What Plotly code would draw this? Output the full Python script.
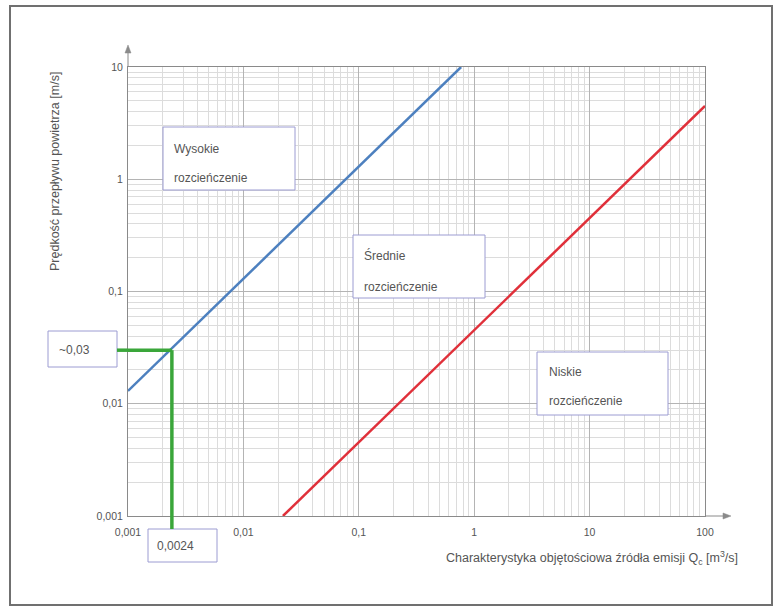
import plotly.graph_objects as go

# ---- data ----
x_tick_vals = [0.001, 0.01, 0.1, 1, 10, 100]
x_tick_text = ["0,001", "0,01", "0,1", "1", "10", "100"]
y_tick_vals = [0.001, 0.01, 0.1, 1, 10]
y_tick_text = ["0,001", "0,01", "0,1", "1", "10"]

high_q = [0.001, 0.77]      # boundary: high / medium dilution
high_v = [0.013, 10]
low_q = [0.022, 100]        # boundary: medium / low dilution
low_v = [0.001, 4.5]

marker_q = 0.0024
marker_v = 0.03
marker_q_label = "0,0024"
marker_v_label = "~0,03"

zone_labels = [("Wysokie", "rozcieńczenie"),
               ("Średnie", "rozcieńczenie"),
               ("Niskie", "rozcieńczenie")]

# ---- layout helpers (pixel -> paper) ----
L, R, T, B = 128, 75, 67, 96
WID, HEI = 780, 612
PW, PH = WID - L - R, HEI - T - B


def px(x):
    return (x - L) / PW


def py(y):
    return (HEI - B - y) / PH


FONT = "Liberation Sans, Arial, sans-serif"
TXT = "#555555"
AXC = "#8a8a8a"

fig = go.Figure()
fig.add_trace(go.Scatter(x=high_q, y=high_v, mode="lines",
                         line=dict(color="#4d80bf", width=2.5), showlegend=False))
fig.add_trace(go.Scatter(x=low_q, y=low_v, mode="lines",
                         line=dict(color="#e0303a", width=2.5), showlegend=False))

axis_common = dict(
    type="log", showgrid=True, gridcolor="#b4b4b4", gridwidth=1,
    showline=True, linecolor=AXC, linewidth=1, mirror=True,
    ticks="", tickfont=dict(family=FONT, size=10.5, color=TXT),
    zeroline=False, tickmode="array",
    minor=dict(showgrid=True, gridcolor="#dcdcdc", gridwidth=1, dtick="D1", tickmode="linear"),
)

fig.update_xaxes(range=[-3, 2], tickvals=x_tick_vals, ticktext=x_tick_text,
                 ticklabelstandoff=6, **axis_common)
fig.update_yaxes(range=[-3, 1], tickvals=y_tick_vals, ticktext=y_tick_text,
                 ticklabelstandoff=2, **axis_common)

shapes = []
# outer frame
shapes.append(dict(type="rect", xref="paper", yref="paper",
                   x0=px(10), x1=px(772), y0=py(605), y1=py(6),
                   line=dict(color="#707070", width=2), fillcolor="rgba(0,0,0,0)", layer="below"))

# zone / value boxes
boxes = [(163, 295, 127, 190), (353, 485, 235, 298), (537, 668, 352, 415),
         (48, 117, 331, 367), (148, 217, 529, 562)]
for (x0, x1, y0, y1) in boxes:
    shapes.append(dict(type="rect", xref="paper", yref="paper",
                       x0=px(x0), x1=px(x1), y0=py(y1), y1=py(y0),
                       line=dict(color="#9c9cd2", width=1), fillcolor="white", layer="above"))

GREEN = "#3aa63a"
GW = 3.5
# green marker lines
shapes.append(dict(type="line", xref="x", yref="y", x0=0.001, x1=marker_q,
                   y0=marker_v, y1=marker_v, line=dict(color=GREEN, width=GW)))
shapes.append(dict(type="line", xref="paper", yref="y", x0=px(117), x1=0,
                   y0=marker_v, y1=marker_v, line=dict(color=GREEN, width=GW)))
shapes.append(dict(type="line", xref="x", yref="y", x0=marker_q, x1=marker_q,
                   y0=0.001, y1=marker_v, line=dict(color=GREEN, width=GW)))
shapes.append(dict(type="line", xref="x", yref="paper", x0=marker_q, x1=marker_q,
                   y0=0, y1=py(529), line=dict(color=GREEN, width=GW)))

# axis extensions with arrowheads
shapes.append(dict(type="line", xref="paper", yref="paper", x0=1, x1=px(726),
                   y0=0, y1=0, line=dict(color=AXC, width=1)))
shapes.append(dict(type="path", xref="paper", yref="paper",
                   path="M %f,%f L %f,%f L %f,%f Z" % (px(731), py(516), px(723), py(513), px(723), py(519)),
                   fillcolor=AXC, line=dict(color=AXC, width=0.5)))
shapes.append(dict(type="line", xref="paper", yref="paper", x0=0, x1=0,
                   y0=1, y1=py(50), line=dict(color=AXC, width=1)))
shapes.append(dict(type="path", xref="paper", yref="paper",
                   path="M %f,%f L %f,%f L %f,%f Z" % (px(128), py(45), px(125), py(53), px(131), py(53)),
                   fillcolor=AXC, line=dict(color=AXC, width=0.5)))

annotations = []
text_pos = [(172, 149, 178), (362, 255, 287), (547, 372, 401)]
for (l1, l2), (tx, ty1, ty2) in zip(zone_labels, text_pos):
    for t, ty in ((l1, ty1), (l2, ty2)):
        annotations.append(dict(xref="paper", yref="paper", x=px(tx), y=py(ty),
                                text=t, showarrow=False, xanchor="left", yanchor="middle",
                                font=dict(family=FONT, size=12, color=TXT)))

annotations.append(dict(xref="paper", yref="paper", x=px(57), y=py(350),
                        text=marker_v_label, showarrow=False, xanchor="left", yanchor="middle",
                        font=dict(family=FONT, size=12, color=TXT)))
annotations.append(dict(xref="paper", yref="paper", x=px(155), y=py(546),
                        text=marker_q_label, showarrow=False, xanchor="left", yanchor="middle",
                        font=dict(family=FONT, size=12, color=TXT)))

# axis titles
annotations.append(dict(xref="paper", yref="paper", x=px(55), y=py(172),
                        text="Prędkość przepływu powietrza [m/s]", textangle=-90,
                        showarrow=False, xanchor="center", yanchor="middle",
                        font=dict(family=FONT, size=12.5, color=TXT)))
annotations.append(dict(xref="paper", yref="paper", x=px(740), y=py(558),
                        text="Charakterystyka objętościowa źródła emisji Q<sub>c</sub> [m<sup>3</sup>/s]",
                        showarrow=False, xanchor="right", yanchor="middle",
                        font=dict(family=FONT, size=12.5, color=TXT)))

fig.update_layout(
    width=WID, height=HEI,
    margin=dict(l=L, r=R, t=T, b=B),
    paper_bgcolor="white", plot_bgcolor="white",
    shapes=shapes, annotations=annotations,
    font=dict(family=FONT, color=TXT),
    showlegend=False,
)

fig.write_html("out.html")
